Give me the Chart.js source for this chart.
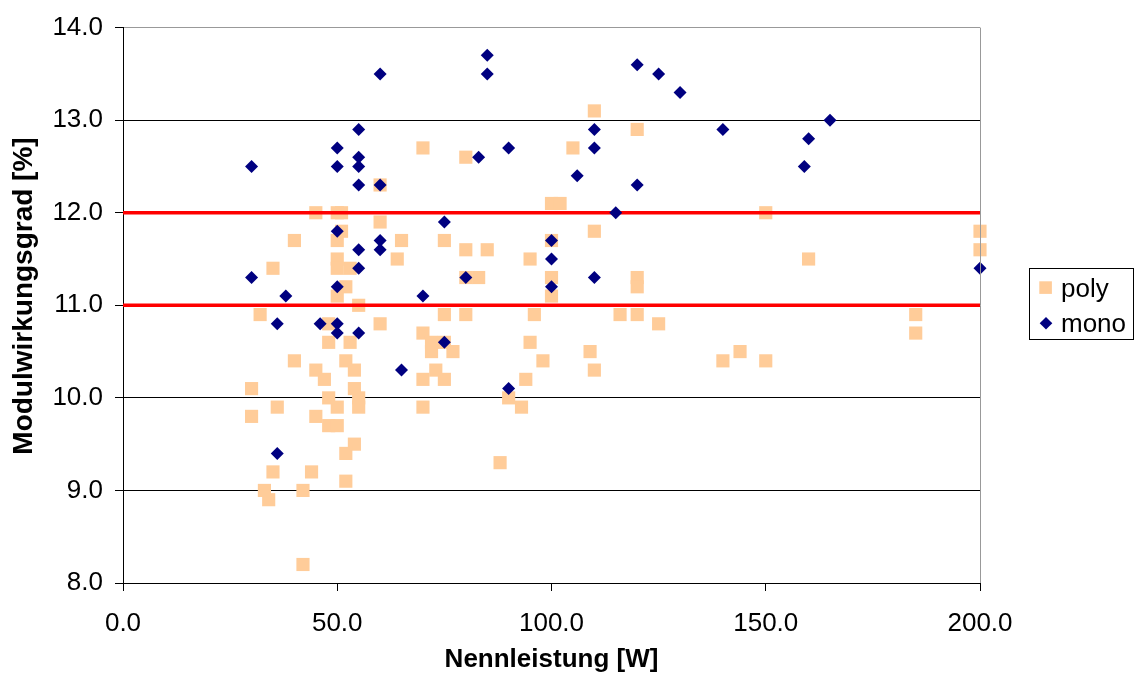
<!DOCTYPE html>
<html><head><meta charset="utf-8">
<script src="https://cdn.jsdelivr.net/npm/chart.js@4.4.0/dist/chart.umd.min.js"></script>
<style>html,body{margin:0;padding:0;background:#fff;}canvas{display:block;}</style>
</head><body>
<canvas id="c" width="1136" height="682"></canvas>
<script>
// ---- data ----
const seriesNames = ["poly", "mono"];
const polyX = [60,45,50,51,60,51,50,40,65,64,35,50,50,53,52,50,55,32,60,48,48,53,70,40,45,47,52,54,54,55,55,30,30,36,48,50,45,48,50,54,52,35,44,52,33,34,42,42,70,70,75,80,85,95,100,100,100,100,102,110,80,83,120,120,75,80,96,116,120,125,72,75,72,77,95,109,98,73,75,94,110,90,93,88,70,80,105,110,120,150,160,200,200,185,185,140,144,150];
const polyY = [12.3,12.0,12.0,12.0,11.9,11.8,11.7,11.7,11.7,11.5,11.4,11.5,11.4,11.4,11.2,11.1,11.0,10.9,10.8,10.8,10.6,10.6,10.7,10.4,10.3,10.2,10.4,10.3,10.1,10.0,9.9,10.1,9.8,9.9,10.0,9.9,9.8,9.7,9.7,9.5,9.4,9.2,9.2,9.1,9.0,8.9,9.0,8.2,10.2,9.9,11.7,11.6,11.6,11.5,11.7,11.3,11.1,12.1,12.1,11.8,11.3,11.3,11.3,11.2,10.9,10.9,10.9,10.9,10.9,10.8,10.6,10.6,10.5,10.5,10.6,10.5,10.4,10.3,10.2,10.2,10.3,10.0,9.9,9.3,12.7,12.6,12.7,13.1,12.9,12.0,11.5,11.8,11.6,10.9,10.7,10.4,10.5,10.4];
const monoX = [30,30,38,36,36,46,50,50,50,50,50,50,55,55,55,55,55,55,55,60,60,60,60,65,70,75,75,80,83,85,85,90,90,100,100,100,106,110,110,110,115,120,120,125,130,140,159,160,165,200];
const monoY = [12.5,11.3,11.1,10.8,9.4,10.8,12.7,12.5,11.8,11.2,10.8,10.7,12.9,12.6,12.5,12.3,11.6,11.4,10.7,13.5,12.3,11.7,11.6,10.3,11.1,11.9,10.6,11.3,12.6,13.7,13.5,12.7,10.1,11.7,11.5,11.2,12.4,12.9,12.7,11.3,12.0,13.6,12.3,13.5,13.3,12.9,12.5,12.8,13.0,11.4];
const limitLevels = [11, 12];
const xLimits = [0, 200];
const yLimits = [8, 14];
const xStep = 50;
const yStep = 1;
const xTitle = "Nennleistung [W]";
const yTitle = "Modulwirkungsgrad [%]";

const FONT = "'Liberation Sans', Arial, sans-serif";
const toPts = (xs, ys) => xs.map((x, i) => ({x: x, y: ys[i]}));

const datasets = [
  {label: seriesNames[1], data: toPts(monoX, monoY), pointStyle: 'rectRot', pointRadius: 6.5,
   backgroundColor: '#000080', borderColor: '#000080', borderWidth: 0, showLine: false, order: 0, clip: false},
  ...limitLevels.map(v => ({label: 'limit' + v, type: 'line', data: xLimits.map(x => ({x: x, y: v})),
   borderColor: '#FF0000', borderWidth: 3.5, pointRadius: 0, fill: false, order: 1, clip: false})),
  {label: seriesNames[0], data: toPts(polyX, polyY), pointStyle: 'rect', pointRadius: 9.3,
   backgroundColor: '#FFCC99', borderColor: '#FFCC99', borderWidth: 0, showLine: false, order: 2, clip: false}
];

const framePlugin = {
  id: 'frame',
  afterDraw(chart) {
    const {ctx, chartArea: a} = chart;
    ctx.save();
    ctx.strokeStyle = '#999999';
    ctx.lineWidth = 1;
    ctx.beginPath();
    ctx.moveTo(Math.round(a.right) + 0.5, a.top);
    ctx.lineTo(Math.round(a.right) + 0.5, a.bottom);
    ctx.stroke();
    // y axis title
    ctx.save();
    ctx.translate(24, 296);
    ctx.rotate(-Math.PI / 2);
    ctx.fillStyle = '#000000';
    ctx.font = 'bold 28px ' + FONT;
    ctx.textAlign = 'center';
    ctx.textBaseline = 'middle';
    ctx.fillText(yTitle, 0, 0);
    ctx.restore();
    // legend
    const bx = 1029.5, by = 268.5, bw = 104, bh = 71;
    ctx.fillStyle = '#ffffff';
    ctx.fillRect(bx, by, bw, bh);
    ctx.strokeStyle = '#000000';
    ctx.strokeRect(bx, by, bw, bh);
    const poly = chart.data.datasets.find(d => d.label === seriesNames[0]);
    const mono = chart.data.datasets.find(d => d.label === seriesNames[1]);
    ctx.fillStyle = poly.backgroundColor;
    ctx.fillRect(1039.3, 281.3, 12.6, 12.6);
    ctx.fillStyle = mono.backgroundColor;
    ctx.beginPath();
    ctx.moveTo(1046, 317); ctx.lineTo(1052.3, 323.3); ctx.lineTo(1046, 329.6); ctx.lineTo(1039.7, 323.3);
    ctx.closePath(); ctx.fill();
    ctx.fillStyle = '#000000';
    ctx.font = '26px ' + FONT;
    ctx.textAlign = 'left';
    ctx.textBaseline = 'alphabetic';
    ctx.fillText(poly.label, 1061, 297);
    ctx.fillText(mono.label, 1061, 332);
    ctx.restore();
  }
};

new Chart(document.getElementById('c'), {
  type: 'scatter',
  data: {datasets: datasets},
  plugins: [framePlugin],
  options: {
    responsive: false,
    animation: false,
    devicePixelRatio: 1,
    layout: {padding: {left: 0, top: 25, right: 156, bottom: 0}},
    plugins: {legend: {display: false}, tooltip: {enabled: false}},
    scales: {
      x: {
        type: 'linear', min: xLimits[0], max: xLimits[1],
        afterFit(s) { s.height = 99; },
        ticks: {stepSize: xStep, color: '#000', padding: 17, maxRotation: 0,
          font: {family: FONT, size: 26}, callback: v => Number(v).toFixed(1)},
        grid: {drawOnChartArea: false, drawTicks: true, tickLength: 8, tickColor: '#000', color: '#000'},
        border: {display: true, color: '#000', width: 1},
        title: {display: true, text: xTitle, color: '#000', padding: {top: 0, bottom: 7},
          font: {family: FONT, size: 26, weight: 'bold'}}
      },
      y: {
        type: 'linear', min: yLimits[0], max: yLimits[1],
        afterFit(s) { s.width = 123; },
        ticks: {stepSize: yStep, color: '#000', padding: 12,
          font: {family: FONT, size: 26}, callback: v => Number(v).toFixed(1)},
        grid: {drawTicks: true, tickLength: 8, tickColor: '#000',
          color: c => (c.tick && c.tick.value === yLimits[1]) ? '#999999' : '#000000', lineWidth: 1},
        border: {display: true, color: '#000', width: 1},
        title: {display: false}
      }
    }
  }
});
</script>
</body></html>
